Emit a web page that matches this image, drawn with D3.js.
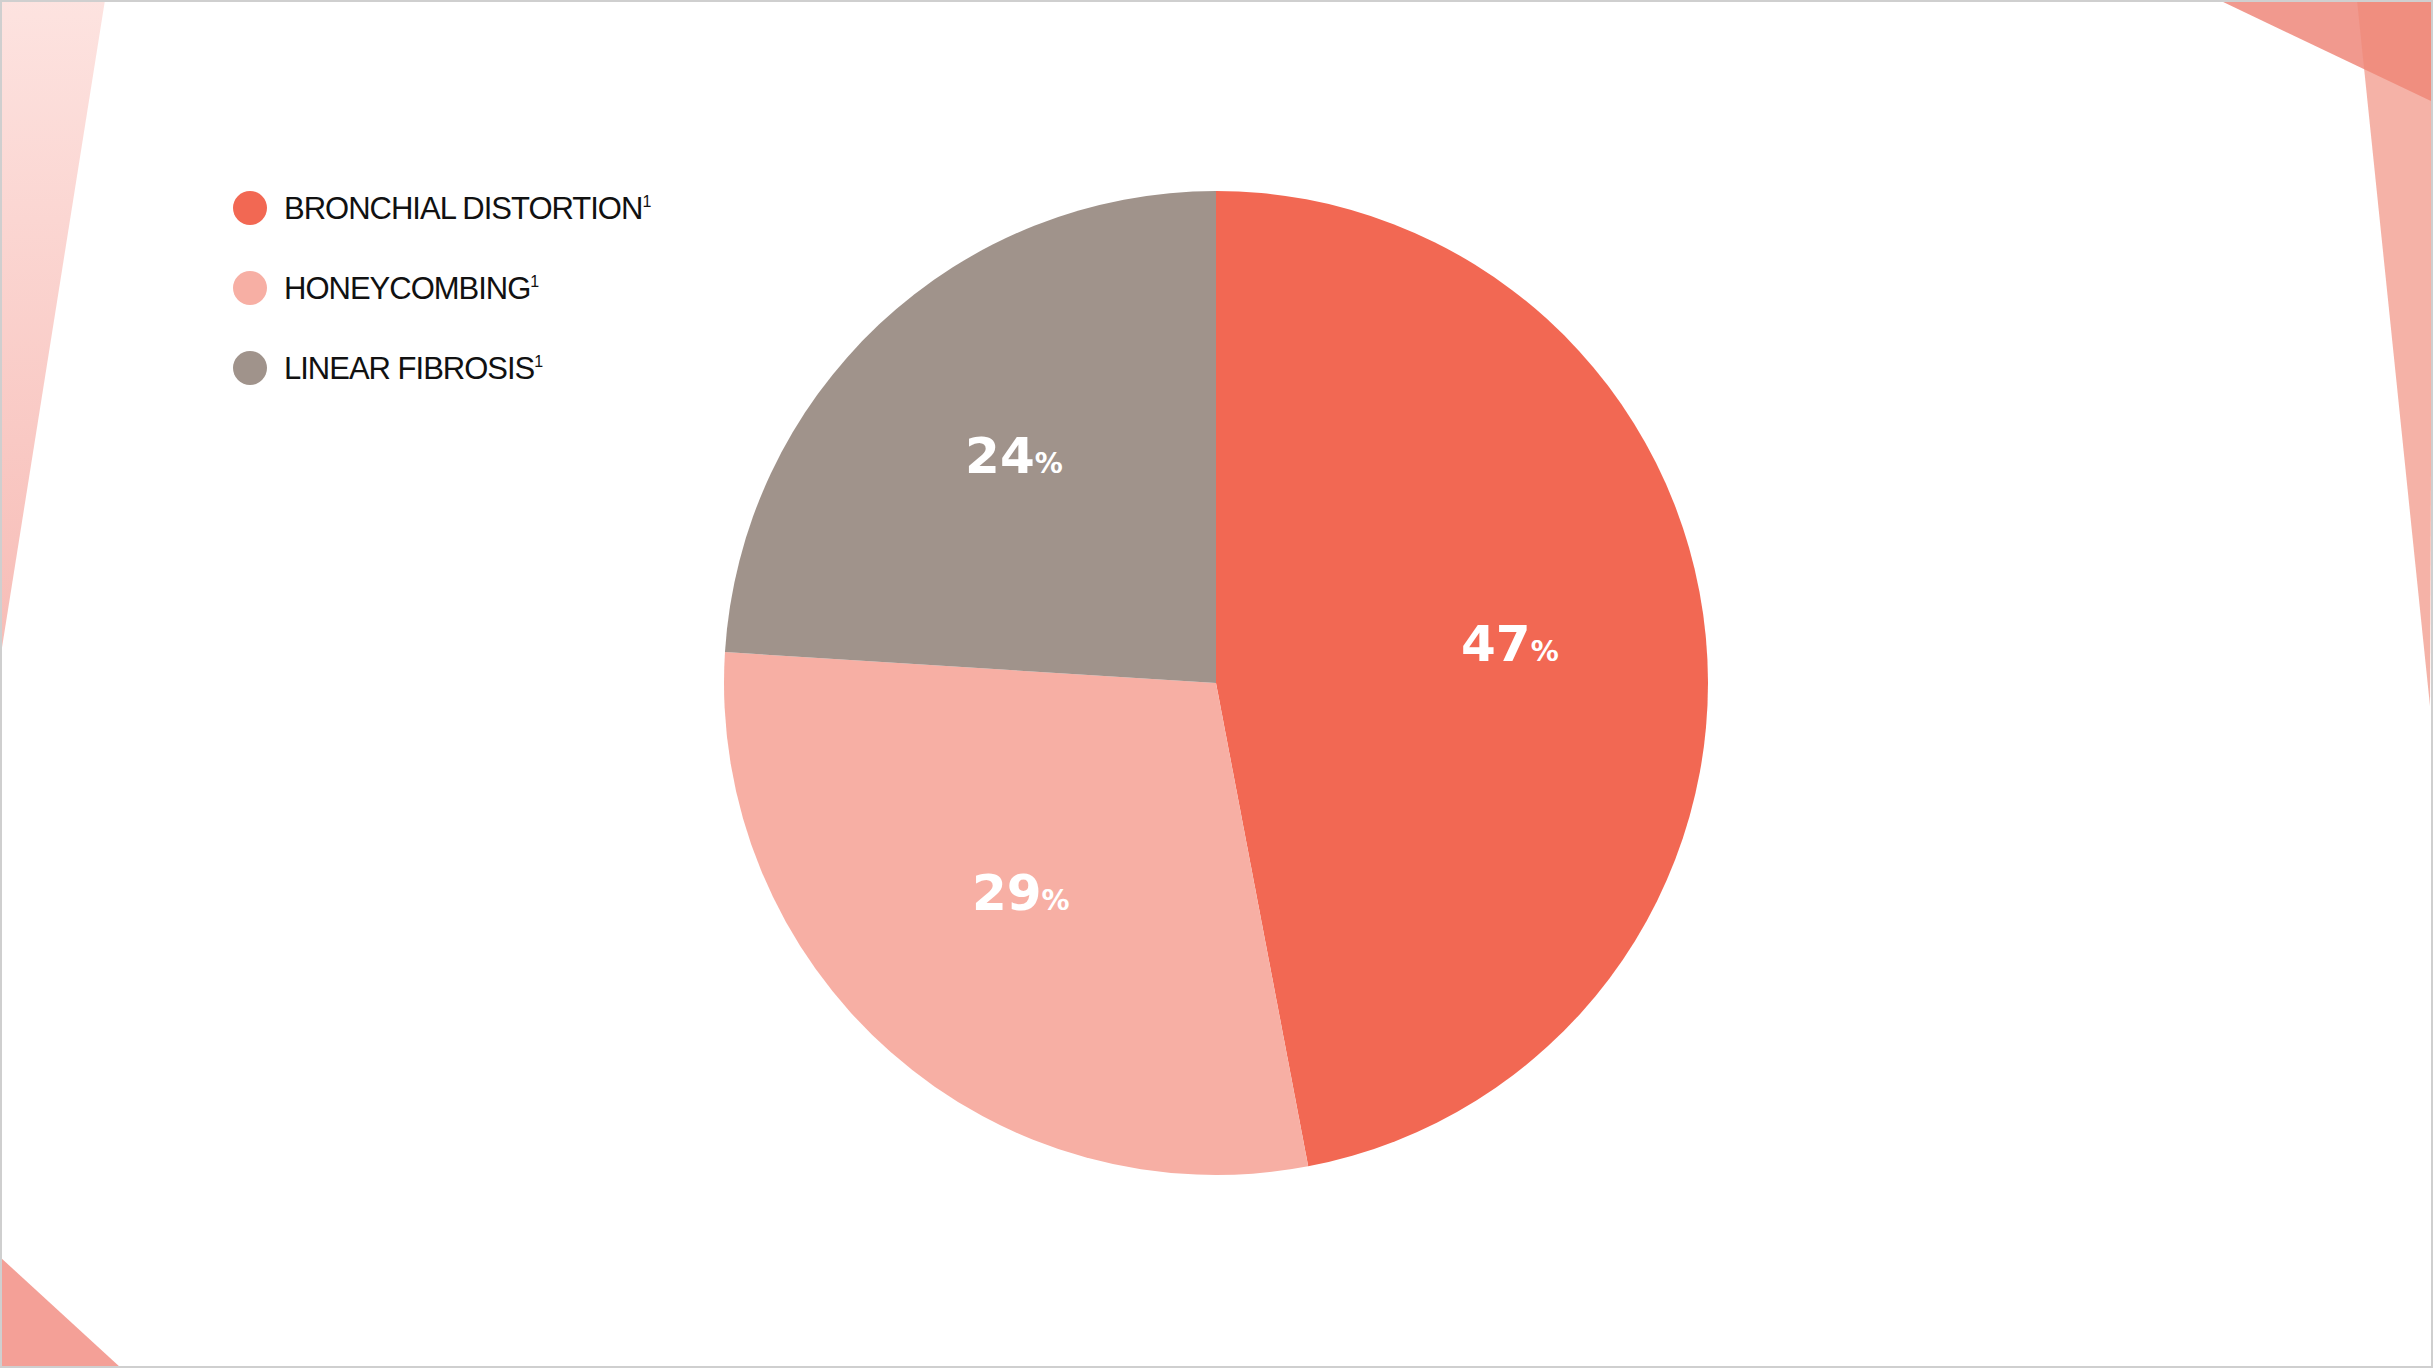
<!DOCTYPE html>
<html>
<head>
<meta charset="utf-8">
<script src="https://cdn.jsdelivr.net/npm/d3@7"></script>
<style>
  body { margin: 0; background: #fff; }
  svg { display: block; }
</style>
</head>
<body>
<div id="chart"></div>
<script>
const categories = ["BRONCHIAL DISTORTION", "HONEYCOMBING", "LINEAR FIBROSIS"];
const values = [47, 29, 24];
const colors = ["#f26853", "#f7afa4", "#a0938b"];

const width = 2433, height = 1368;
const cx = 1216, cy = 683, radius = 492;

const svg = d3.select("#chart")
  .append("svg")
    .attr("width", width)
    .attr("height", height);

// background decorations
const defs = svg.append("defs");
const grad = defs.append("linearGradient")
  .attr("id", "leftGrad")
  .attr("x1", 0).attr("y1", 0).attr("x2", 0).attr("y2", 1);
grad.append("stop").attr("offset", "0%").attr("stop-color", "#fde3e0");
grad.append("stop").attr("offset", "100%").attr("stop-color", "#f7bcb6");

svg.append("polygon").attr("points", "0,0 105,0 0,660").attr("fill", "url(#leftGrad)");
svg.append("polygon").attr("points", "0,1257 121,1368 0,1368").attr("fill", "#f4a097");
svg.append("polygon").attr("points", "2219,0 2433,0 2433,102").attr("fill", "#e85a48").attr("fill-opacity", 0.62);
svg.append("polygon").attr("points", "2357,0 2433,0 2430,706").attr("fill", "#f08878").attr("fill-opacity", 0.65);
svg.append("rect")
  .attr("x", 1).attr("y", 1).attr("width", width - 2).attr("height", height - 2)
  .attr("fill", "none").attr("stroke", "#cfcfcf").attr("stroke-width", 2);

// pie
const pie = d3.pie().sort(null).value(d => d);
const arc = d3.arc().innerRadius(0).outerRadius(radius);
const arcs = pie(values);

const g = svg.append("g").attr("transform", `translate(${cx},${cy})`);
g.selectAll("path")
  .data(arcs)
  .join("path")
    .attr("d", arc)
    .attr("fill", (d, i) => colors[i]);

const labelArc = d3.arc().innerRadius(radius * 0.6).outerRadius(radius * 0.6);
const lbl = g.selectAll("text.pct")
  .data(arcs)
  .join("text")
    .attr("class", "pct")
    .attr("transform", d => {
      const [x, y] = labelArc.centroid(d);
      return `translate(${x},${y})`;
    })
    .attr("text-anchor", "middle")
    .attr("dy", "0.35em")
    .attr("fill", "#fff")
    .style("font-family", "'DejaVu Sans', sans-serif")
    .style("font-weight", "bold");
lbl.append("tspan").style("font-size", "50px").text(d => d.data);
lbl.append("tspan").style("font-size", "28px").text("%");

// legend
const legend = svg.append("g").attr("transform", "translate(250,208)");
const item = legend.selectAll("g")
  .data(categories)
  .join("g")
    .attr("transform", (d, i) => `translate(0,${i * 80})`);
item.append("circle").attr("r", 17).attr("fill", (d, i) => colors[i]);
const lt = item.append("text")
  .attr("x", 34)
  .attr("dy", "0.36em")
  .style("font-family", "'Liberation Sans', Arial, sans-serif")
  .style("font-size", "31px")
  .style("letter-spacing", "-1px")
  .attr("fill", "#111");
lt.append("tspan").text(d => d);
lt.append("tspan").attr("dy", "-12").style("font-size", "16px").text("1");
</script>
</body>
</html>
